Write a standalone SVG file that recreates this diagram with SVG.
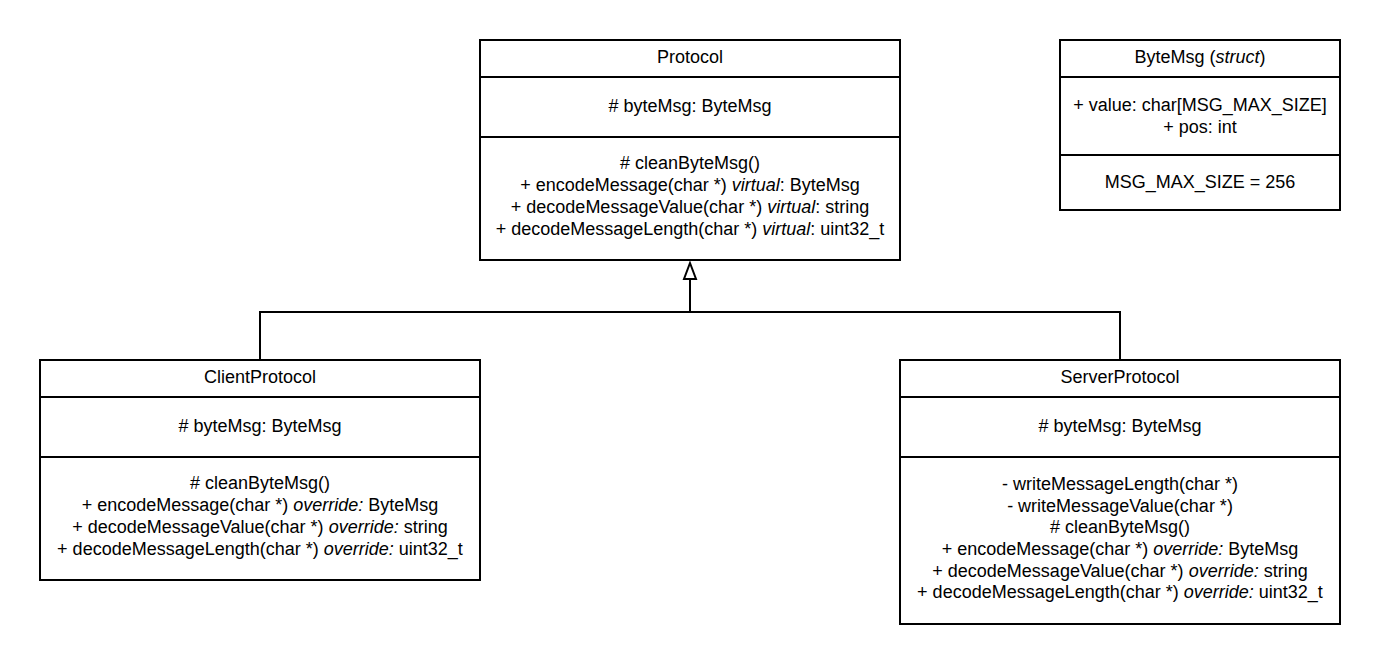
<svg xmlns="http://www.w3.org/2000/svg" width="1380" height="664" viewBox="0 0 1380 664">
<style>
.box{fill:#fff;stroke:#000;stroke-width:2}
.div{stroke:#000;stroke-width:2;fill:none}
text{font-family:"Liberation Sans",Arial,sans-serif;font-size:18px;fill:#000;text-anchor:middle}
.i{font-style:italic}
.conn{stroke:#000;stroke-width:2;fill:none}
</style>
<rect width="1380" height="664" fill="#fff"/>
<g id="connectors">
<path class="conn" d="M690 312 L690 278"/>
<path d="M690 263 L696 279 L684 279 Z" fill="#fff" stroke="#000" stroke-width="2" stroke-linejoin="miter"/>
<path class="conn" d="M260 360 L260 312 L1120 312 L1120 360"/>
</g>
<g id="Protocol">
<rect class="box" x="480" y="40" width="420" height="220"/>
<line class="div" x1="480" y1="77" x2="900" y2="77"/>
<line class="div" x1="480" y1="137" x2="900" y2="137"/>
<text x="690" y="63">Protocol</text>
<text x="690" y="112"># byteMsg: ByteMsg</text>
<text x="690" y="169"># cleanByteMsg()</text>
<text x="690" y="191">+ encodeMessage(char *) <tspan class="i">virtual</tspan>: ByteMsg</text>
<text x="690" y="213">+ decodeMessageValue(char *) <tspan class="i">virtual</tspan>: string</text>
<text x="690" y="235">+ decodeMessageLength(char *) <tspan class="i">virtual</tspan>: uint32_t</text>
</g>
<g id="ByteMsg">
<rect class="box" x="1060" y="40" width="280" height="170"/>
<line class="div" x1="1060" y1="77" x2="1340" y2="77"/>
<line class="div" x1="1060" y1="155" x2="1340" y2="155"/>
<text x="1200" y="63">ByteMsg (<tspan class="i">struct</tspan>)</text>
<text x="1200" y="111">+ value: char[MSG_MAX_SIZE]</text>
<text x="1200" y="133">+ pos: int</text>
<text x="1200" y="188">MSG_MAX_SIZE = 256</text>
</g>
<g id="ClientProtocol">
<rect class="box" x="40" y="360" width="440" height="220"/>
<line class="div" x1="40" y1="397" x2="480" y2="397"/>
<line class="div" x1="40" y1="457" x2="480" y2="457"/>
<text x="260" y="383">ClientProtocol</text>
<text x="260" y="432"># byteMsg: ByteMsg</text>
<text x="260" y="489"># cleanByteMsg()</text>
<text x="260" y="511">+ encodeMessage(char *) <tspan class="i">override:</tspan> ByteMsg</text>
<text x="260" y="533">+ decodeMessageValue(char *) <tspan class="i">override:</tspan> string</text>
<text x="260" y="555">+ decodeMessageLength(char *) <tspan class="i">override:</tspan> uint32_t</text>
</g>
<g id="ServerProtocol">
<rect class="box" x="900" y="360" width="440" height="264"/>
<line class="div" x1="900" y1="397" x2="1340" y2="397"/>
<line class="div" x1="900" y1="457" x2="1340" y2="457"/>
<text x="1120" y="383">ServerProtocol</text>
<text x="1120" y="432"># byteMsg: ByteMsg</text>
<text x="1120" y="490">- writeMessageLength(char *)</text>
<text x="1120" y="512">- writeMessageValue(char *)</text>
<text x="1120" y="533"># cleanByteMsg()</text>
<text x="1120" y="555">+ encodeMessage(char *) <tspan class="i">override:</tspan> ByteMsg</text>
<text x="1120" y="577">+ decodeMessageValue(char *) <tspan class="i">override:</tspan> string</text>
<text x="1120" y="598">+ decodeMessageLength(char *) <tspan class="i">override:</tspan> uint32_t</text>
</g>
</svg>
